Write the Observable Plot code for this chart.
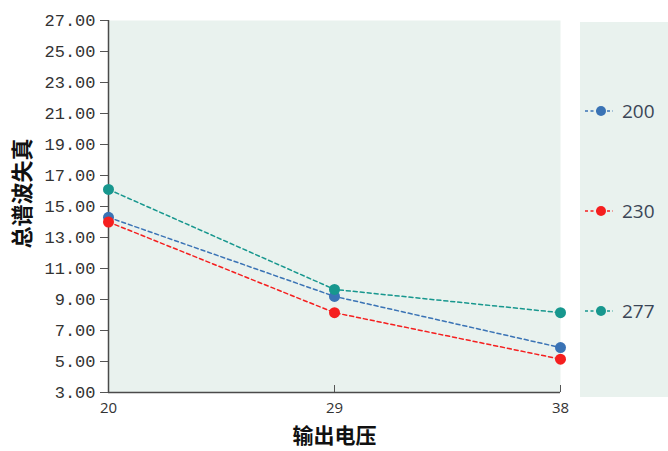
<!DOCTYPE html>
<html>
<head>
<meta charset="utf-8">
<script src="https://cdn.jsdelivr.net/npm/d3@7"></script>
<script src="https://cdn.jsdelivr.net/npm/@observablehq/plot@0.6"></script>
<style>
  html, body { margin: 0; padding: 0; background: #fff; }
  #wrap { position: relative; width: 668px; height: 451px; overflow: hidden; }
  #legend { position: absolute; left: 580px; top: 22px; width: 88px; height: 375px; background: #e9f2ee; }
  .item { position: absolute; left: 4px; display: flex; align-items: center; font-family: "Open Sans", "Noto Sans", sans-serif; font-size: 19px; color: #3b4656; }
  .item svg { margin-right: 8px; }
</style>
</head>
<body>
<div id="wrap"><div id="legend"></div></div>
<script>
const xValues = [20, 29, 38];
const seriesNames = ["200", "230", "277"];
const s200 = [14.3, 9.2, 5.9];
const s230 = [14.0, 8.15, 5.15];
const s277 = [16.1, 9.65, 8.15];
const seriesColors = ["#3a73b5", "#f51f1f", "#17978e"];
const yTicks = [3, 5, 7, 9, 11, 13, 15, 17, 19, 21, 23, 25, 27];
const xTicks = [20, 29, 38];
const yTitle = "总谱波失真";
const xTitle = "输出电压";

const allSeries = [s200, s230, s277];
const data = [];
seriesNames.forEach((name, i) => {
  xValues.forEach((x, j) => data.push({series: name, x, y: allSeries[i][j]}));
});

const chart = Plot.plot({
  width: 668,
  height: 451,
  marginLeft: 108,
  marginRight: 108,
  marginTop: 20,
  marginBottom: 59,
  style: {background: "transparent", overflow: "visible"},
  x: {domain: [20, 38]},
  y: {domain: [3, 27]},
  color: {domain: seriesNames, range: seriesColors},
  marks: [
    Plot.frame({fill: "#e9f2ee", stroke: null}),
    Plot.axisY({
      ticks: yTicks, tickFormat: d3.format(".2f"), tickSize: 8, tickPadding: 5,
      stroke: "#555", color: "#333",
      fontFamily: "Liberation Mono, monospace", fontSize: 17,
      label: null
    }),
    Plot.axisX({
      ticks: xTicks, tickFormat: d => String(d), tickSize: -7, tickPadding: 17,
      stroke: "#555", color: "#333",
      fontFamily: "Open Sans, sans-serif", fontSize: 15,
      label: null
    }),
    Plot.text([yTitle], {
      frameAnchor: "left", textAnchor: "middle", dx: -86, dy: -13, rotate: -90,
      fontFamily: "Noto Sans CJK SC", fontSize: 22, fontWeight: "bold", fill: "#111"
    }),
    Plot.text([xTitle], {
      frameAnchor: "bottom", dy: 50,
      fontFamily: "Noto Sans CJK SC", fontSize: 21, fontWeight: "bold", fill: "#111"
    }),
    Plot.ruleX([20], {stroke: "#4a4a4a", strokeWidth: 1.5}),
    Plot.ruleY([3], {stroke: "#4a4a4a", strokeWidth: 1.5}),
    Plot.line(data, {x: "x", y: "y", z: "series", stroke: "series", strokeWidth: 1.5, strokeDasharray: "4,3"}),
    Plot.dot(data, {x: "x", y: "y", fill: "series", r: 5.5, stroke: null})
  ]
});
document.getElementById("wrap").prepend(chart);

const legend = document.getElementById("legend");
const tops = [76, 176, 276];
seriesNames.forEach((name, i) => {
  const div = document.createElement("div");
  div.className = "item";
  div.style.top = tops[i] + "px";
  const c = seriesColors[i];
  div.innerHTML = `<svg width="30" height="22"><line x1="1" y1="11" x2="29" y2="11" stroke="${c}" stroke-width="1.5" stroke-dasharray="3,2.5"/><circle cx="17" cy="11" r="5" fill="${c}"/></svg><span>${name}</span>`;
  legend.appendChild(div);
});
</script>
</body>
</html>
